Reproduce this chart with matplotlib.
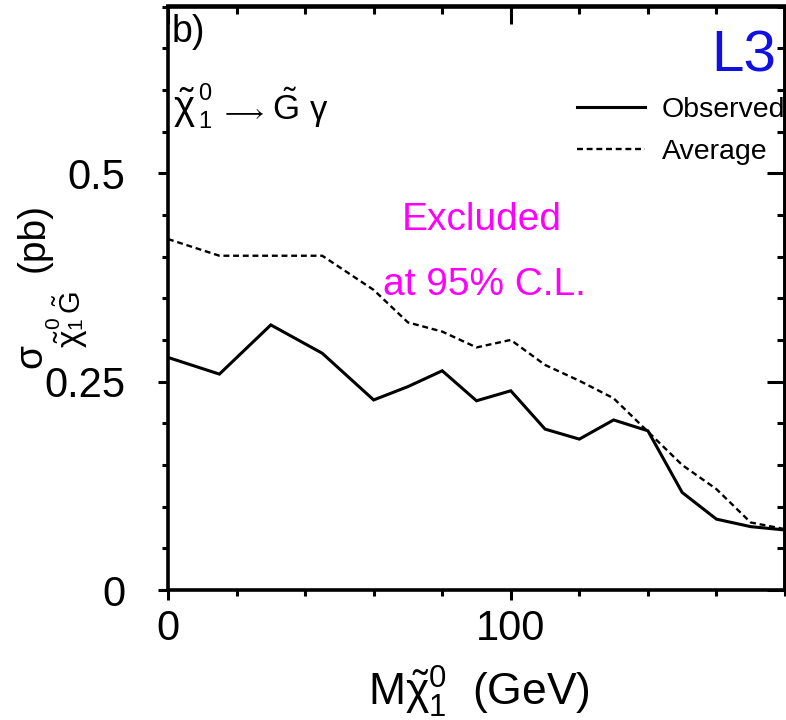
import matplotlib
matplotlib.use("Agg")
import matplotlib.pyplot as plt

plt.rcParams['font.family'] = ['Liberation Sans', 'DejaVu Sans']
plt.rcParams['mathtext.fontset'] = 'custom'
plt.rcParams['mathtext.rm'] = 'Liberation Sans'
plt.rcParams['mathtext.it'] = 'Liberation Sans'
plt.rcParams['mathtext.bf'] = 'Liberation Sans:bold'
plt.rcParams['mathtext.sf'] = 'Liberation Sans'
plt.rcParams['mathtext.fallback'] = 'stixsans'

# Data
mass_obs = [0, 15, 30, 45, 60, 70, 80, 90, 100, 110, 120, 130, 140, 150, 160, 170, 180]
sigma_obs = [0.279, 0.259, 0.318, 0.284, 0.228, 0.244, 0.263, 0.227, 0.239, 0.193,
             0.181, 0.204, 0.191, 0.117, 0.085, 0.076, 0.072]
mass_avg = [0, 15, 30, 45, 60, 70, 80, 90, 100, 110, 120, 130, 140, 150, 160, 170, 180]
sigma_avg = [0.421, 0.401, 0.401, 0.401, 0.360, 0.321, 0.310, 0.291, 0.300, 0.270,
             0.251, 0.230, 0.190, 0.150, 0.121, 0.081, 0.073]
xticks = [0, 100]
yticks = [0, 0.25, 0.5]
ytick_labels = ['0', '0.25', '0.5']

W, H = 786, 720
fig = plt.figure(figsize=(W / 100, H / 100), dpi=100)
L, R, T, B = 168, 785, 6.5, 590
ax = fig.add_axes([L / W, 1 - B / H, (R - L) / W, (B - T) / H])

ax.plot(mass_obs, sigma_obs, color='black', lw=2.2, solid_joinstyle='miter', label='Observed')
ax.plot(mass_avg, sigma_avg, color='black', lw=1.7, linestyle=(0, (2.5, 1.6)), label='Average')

ax.set_xlim(0, 180)
ax.set_ylim(0, 0.70)

ax.set_xticks(xticks)
ax.set_xticks(range(0, 181, 20), minor=True)
ax.set_yticks(yticks)
ax.set_yticklabels(ytick_labels)
ax.set_yticks([i * 0.05 for i in range(15)], minor=True)

for s in ax.spines.values():
    s.set_linewidth(2.6)

ax.tick_params(which='major', direction='out', length=7.5, width=2.2, labelsize=30)
ax.tick_params(which='minor', direction='out', length=4, width=2.2)
ax.tick_params(axis='x', which='major', pad=6)
ax.tick_params(axis='y', which='major', pad=23)

# top/right inward ticks
secx = ax.secondary_xaxis('top')
secx.set_xticks(xticks)
secx.set_xticks(range(0, 181, 20), minor=True)
secx.tick_params(which='major', direction='in', length=13, width=2.2, labeltop=False)
secx.tick_params(which='minor', direction='in', length=6, width=2.2)
secx.spines['top'].set_linewidth(2.6)
secy = ax.secondary_yaxis('right')
secy.set_yticks(yticks)
secy.set_yticks([i * 0.05 for i in range(15)], minor=True)
secy.tick_params(which='major', direction='in', length=13, width=2.2, labelright=False)
secy.tick_params(which='minor', direction='in', length=6, width=2.2)
secy.spines['right'].set_linewidth(2.6)

def fx(px):
    return px / W

def fy(py):
    return 1 - py / H

def t(px, py, s, size, **kw):
    fig.text(fx(px), fy(py), s, ha='left', va='baseline', fontsize=size, **kw)

def tv(px, py, s, size, **kw):
    fig.text(fx(px), fy(py), s, rotation=90, rotation_mode='anchor',
             ha='left', va='baseline', fontsize=size, **kw)

# panel label and experiment
t(172, 42, 'b)', 27)
fig.text(fx(776), fy(72), 'L3', ha='right', va='baseline', fontsize=42, color='#1010e0')

# decay annotation
t(173, 120, r'$\tilde{\chi}$', 29)
t(198, 100, '0', 17)
t(198, 128, '1', 17)
t(220, 119, r'$\longrightarrow$', 18)
t(272, 120, r'$\tilde{\mathrm{G}}$', 25)
t(309, 120, r'$\gamma$', 25)

# exclusion text
fig.text(fx(482), fy(230), 'Excluded', ha='center', va='baseline', fontsize=28, color='#ff00ff')
fig.text(fx(484), fy(295), 'at 95% C.L.', ha='center', va='baseline', fontsize=28, color='#ff00ff')

leg = ax.legend(loc='upper left', bbox_to_anchor=(fx(577), fy(97)),
                bbox_transform=fig.transFigure, frameon=False, fontsize=20.5,
                handlelength=2.4, handletextpad=0.58, labelspacing=0.57,
                borderaxespad=0, borderpad=0)

# x label
fig.text(fx(479), fy(706), r'M$\tilde{\chi}^0_1$  (GeV)', ha='center', va='baseline', fontsize=32)

# y label composed of pieces (rotated)
tv(43, 370, r'$\sigma$', 28)
tv(81, 348, r'$\tilde{\chi}$', 24)
tv(59, 329, '0', 15)
tv(81, 329, '1', 15)
tv(81, 314, r'$\tilde{\mathrm{G}}$', 21)
tv(44, 272, '(pb)', 28)

fig.savefig('out.png', dpi=100)
